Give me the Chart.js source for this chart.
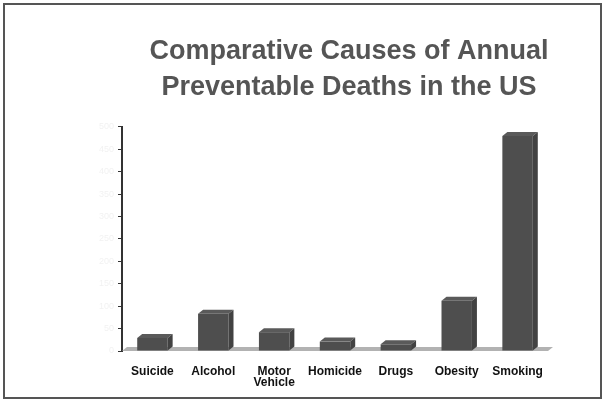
<!DOCTYPE html>
<html>
<head>
<meta charset="utf-8">
<script src="https://cdn.jsdelivr.net/npm/chart.js@4/dist/chart.umd.min.js"></script>
<style>
  html, body { margin: 0; padding: 0; background: #fff; }
  #wrap { position: relative; width: 603px; height: 400px; }
  #frame {
    position: absolute; left: 3px; top: 3px; width: 595px; height: 392px;
    border: 2px solid #555; pointer-events: none;
  }
</style>
</head>
<body>
<div id="wrap">
  <canvas id="myChart" width="603" height="400"></canvas>
  <div id="frame"></div>
</div>
<script>
const causes = ["Suicide", "Alcohol", ["Motor", "Vehicle"], "Homicide", "Drugs", "Obesity", "Smoking"];
const deaths = [29, 83, 42, 21, 15, 112, 480]; // thousands
const yTicks = [0, 50, 100, 150, 200, 250, 300, 350, 400, 450, 500];

const DX = 5, DY = 4;

// fake 3D: floor under the bars, then top and side faces on each bar
const bar3d = {
  id: "bar3d",
  beforeDatasetsDraw(chart) {
    const { ctx, chartArea } = chart;
    const b = chartArea.bottom;
    ctx.save();
    ctx.fillStyle = "#b2b2b2";
    ctx.beginPath();
    ctx.moveTo(chartArea.left, b);
    ctx.lineTo(chartArea.right, b);
    ctx.lineTo(chartArea.right + DX, b - DY);
    ctx.lineTo(chartArea.left + DX, b - DY);
    ctx.closePath();
    ctx.fill();
    ctx.restore();
  },
  afterDatasetsDraw(chart) {
    const { ctx } = chart;
    const meta = chart.getDatasetMeta(0);
    ctx.save();
    meta.data.forEach((bar) => {
      const x0 = bar.x - bar.width / 2;
      const x1 = bar.x + bar.width / 2;
      const y = bar.y, base = bar.base;
      ctx.fillStyle = "#5a5a5a";
      ctx.beginPath();
      ctx.moveTo(x0, y);
      ctx.lineTo(x0 + DX, y - DY);
      ctx.lineTo(x1 + DX, y - DY);
      ctx.lineTo(x1, y);
      ctx.closePath();
      ctx.fill();
      ctx.fillStyle = "#424242";
      ctx.beginPath();
      ctx.moveTo(x1, y);
      ctx.lineTo(x1 + DX, y - DY);
      ctx.lineTo(x1 + DX, base - DY);
      ctx.lineTo(x1, base);
      ctx.closePath();
      ctx.fill();
    });
    ctx.restore();
  },
};

const ctx = document.getElementById("myChart").getContext("2d");

new Chart(ctx, {
  type: "bar",
  data: {
    labels: causes,
    datasets: [
      {
        data: deaths,
        backgroundColor: "#4e4e4e",
        borderWidth: 0,
        barPercentage: 0.5,
        categoryPercentage: 1,
      },
    ],
  },
  options: {
    responsive: false,
    animation: false,
    layout: { padding: { left: 95, right: 0, top: 0, bottom: 4 } },
    plugins: {
      legend: { display: false },
      tooltip: { enabled: false },
      title: {
        display: true,
        text: ["Comparative Causes of Annual", "Preventable Deaths in the US"],
        color: "#555555",
        font: { family: "Liberation Sans", size: 27, weight: "bold", lineHeight: 1.333 },
        padding: { top: 34, bottom: 21 },
      },
    },
    scales: {
      x: {
        grid: { display: false },
        border: { display: false },
        ticks: {
          color: "#111",
          font: { family: "Liberation Sans", size: 12, weight: "bold", lineHeight: 0.95 },
          padding: 7,
          maxRotation: 0,
          autoSkip: false,
        },
        afterFit(scale) { scale.height = 45; },
      },
      y: {
        min: 0,
        max: 500,
        afterBuildTicks(scale) { scale.ticks = yTicks.map((v) => ({ value: v })); },
        grid: { drawOnChartArea: false, drawTicks: true, tickLength: 4, color: "#333" },
        border: { display: true, color: "#333", width: 2 },
        ticks: { color: "#f2f2f2", font: { size: 9 }, padding: 4 },
        afterFit(scale) { scale.width = 27; },
      },
      y2: {
        position: "right",
        grid: { display: false },
        border: { display: false },
        ticks: { display: false },
        afterFit(scale) { scale.width = 55; },
      },
    },
  },
  plugins: [bar3d],
});
</script>
</body>
</html>
